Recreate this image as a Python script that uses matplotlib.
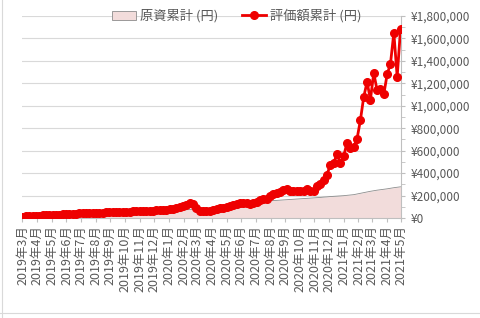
# Cumulative cost vs. valuation chart (weekly data, yen)
import numpy as np
import pandas as pd
import matplotlib.pyplot as plt
from matplotlib.ticker import FuncFormatter, MultipleLocator
from matplotlib.patches import Patch
from matplotlib.lines import Line2D

plt.rcParams['font.family'] = ['Noto Sans CJK JP', 'DejaVu Sans']

# weekly dates, 2019-03-01 .. 2021-04-30
dates = pd.date_range('2019-03-01', periods=114, freq='7D')

# cumulative invested amount (thousand yen)
cost_k = [
    10, 11, 13, 14, 15, 17, 18, 19, 21, 22,
    23, 25, 26, 27, 29, 30, 31, 33, 34, 35,
    37, 38, 39, 41, 42, 43, 45, 46, 47, 49,
    50, 51, 53, 54, 55, 57, 58, 59, 61, 62,
    63, 65, 66, 67, 69, 70, 71, 72, 73, 74,
    75, 75, 76, 76, 77, 79, 82, 85, 88, 92,
    95, 99, 103, 107, 111, 115, 119, 122, 125, 128,
    132, 138, 144, 150, 153, 155, 157, 159, 161, 163,
    165, 167, 169, 171, 173, 175, 177, 179, 181, 183,
    186, 188, 191, 193, 195, 197, 199, 202, 205, 208,
    214, 220, 226, 232, 238, 243, 248, 252, 256, 260,
    265, 270, 274, 278,
]

# cumulative valuation (thousand yen)
value_k = [
    12, 15, 17, 19, 21, 22, 24, 25, 27, 28,
    30, 31, 33, 34, 36, 38, 40, 42, 44, 45,
    46, 47, 48, 48, 49, 50, 51, 52, 53, 54,
    55, 55, 57, 58, 60, 61, 62, 63, 65, 66,
    68, 70, 72, 75, 78, 82, 88, 95, 105, 120,
    133, 125, 90, 65, 60, 62, 66, 72, 78, 85,
    92, 100, 108, 115, 128, 133, 132, 130, 128, 135,
    145, 158, 165, 172, 195, 210, 222, 235, 248, 255,
    245, 238, 240, 238, 242, 258, 245, 238, 282, 305,
    335, 385, 471, 486, 569, 486, 551, 669, 628, 634,
    705, 870, 1078, 1212, 1055, 1292, 1138, 1153, 1102, 1280,
    1375, 1650, 1258, 1685,
]

month_ticks = pd.date_range('2019-03-01', '2021-05-01', freq='MS')
month_labels = [f'{d.year}年{d.month}月' for d in month_ticks]

cost = np.array(cost_k) * 1000
value = np.array(value_k) * 1000

fig = plt.figure(figsize=(4.8, 3.18), dpi=100)
ax = fig.add_axes([22/480, 1 - 218/318, 379/480, 202/318])

grey = '#595959'
red = '#EE0000'
ax.fill_between(dates, 0, cost, color='#F2DCDB', lw=0, zorder=1)
ax.plot(dates, cost, color='#8C8C8C', lw=0.6, zorder=2)
ax.plot(dates, value, color=red, lw=2, marker='o', ms=5.5, zorder=3)

ax.set_ylim(0, 1800000)
ax.set_xlim(dates[0] - pd.Timedelta(days=1), month_ticks[-1])
ax.yaxis.tick_right()
ax.yaxis.set_major_locator(MultipleLocator(200000))
ax.yaxis.set_minor_locator(MultipleLocator(100000))
ax.yaxis.set_major_formatter(FuncFormatter(lambda v, p: f'¥{int(v):,}'))
ax.grid(axis='y', color='#D9D9D9', lw=0.8, zorder=0)
ax.set_axisbelow(True)

ax.set_xticks(month_ticks)
ax.set_xticklabels(month_labels, rotation=90, fontsize=9, color=grey)
ax.tick_params(axis='x', length=3, color='#BFBFBF', pad=2)
ax.tick_params(axis='y', which='both', length=3, color='#BFBFBF', labelsize=8.5,
               labelcolor=grey, pad=4)

for s in ['top', 'left']:
    ax.spines[s].set_visible(False)
ax.spines['bottom'].set_color('#BFBFBF')
ax.spines['right'].set_color('#BFBFBF')

# legend: pink patch with grey edge + red line with marker
handles = [Patch(facecolor='#F2DCDB', edgecolor='#8C8C8C', lw=0.6),
           Line2D([], [], color=red, lw=2, marker='o', ms=5.5)]
ax.legend(handles, ['原資累計 (円)', '評価額累計 (円)'], ncol=2, frameon=False,
          loc='center', bbox_to_anchor=(0.567, 1.0), fontsize=9.5,
          labelcolor=grey, handlelength=1.8, handletextpad=0.3, columnspacing=1.8)

# faint chart border (left and bottom)
fig.add_artist(Line2D([2/480, 2/480], [0, 1], color='#D9D9D9', lw=0.8))
fig.add_artist(Line2D([0, 1], [1 - 313/318, 1 - 313/318], color='#D9D9D9', lw=0.8))

fig.savefig('out.png', dpi=100)
